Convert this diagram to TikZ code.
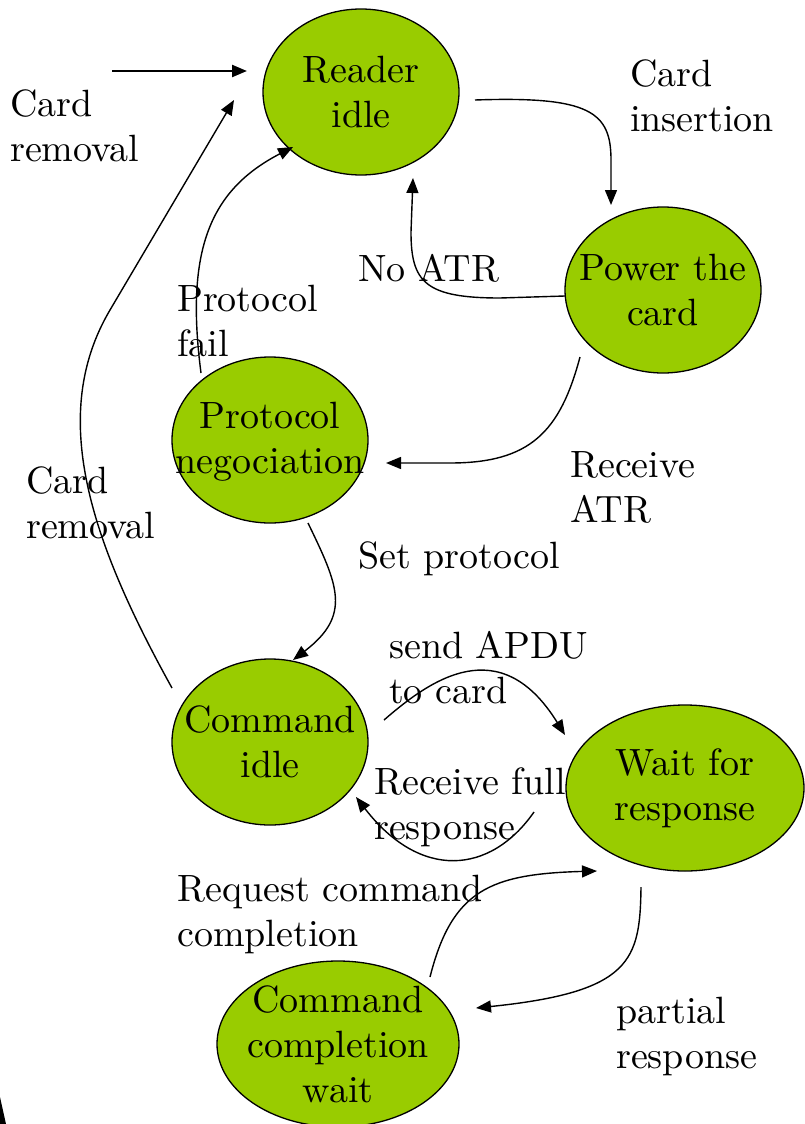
\documentclass[tikz,border=0pt]{standalone}
\usepackage{fontspec}
\setmainfont{lmroman10-regular.otf}
\usetikzlibrary{shapes.geometric,arrows.meta}
\definecolor{stategreen}{RGB}{153,204,0}
\begin{document}
\begin{tikzpicture}[x=1pt,y=-1pt,
  state/.style={ellipse,draw=black,line width=1.3pt,fill=stategreen,inner sep=0pt,
    minimum width=196pt,minimum height=166pt},
  stxt/.style={inner sep=0pt,align=center,font=\fontsize{38}{45}\selectfont},
  lbl/.style={anchor=north west,inner sep=0pt,align=left,font=\fontsize{38}{45}\selectfont},
  trans/.style={line width=1.4pt,-{Triangle[length=15pt,width=12pt]}}]
\useasboundingbox (0,0) rectangle (805,1124);

% states
\node[state] (reader) at (361,92) {};
\node[stxt] (readerT) at (reader) {Reader\\idle};
\node[state] (power) at (663,290) {};
\node[stxt] (powerT) at (power) {Power the\\card};
\node[state] (proto) at (270,440) {};
\node[stxt] (protoT) at ([yshift=-2pt]proto) {Protocol\\negociation};
\node[state] (cmd) at (270,742) {};
\node[stxt] (cmdT) at (cmd) {Command\\idle};
\node[state,minimum width=238pt] (wait) at (685,788) {};
\node[stxt] (waitT) at (wait) {Wait for\\response};
\node[state,minimum width=242pt] (ccw) at (338,1044) {};
\node[stxt] (ccwT) at (ccw) {Command\\completion\\wait};

% connector end points
\coordinate (startIn) at (112,71);
\coordinate (readerIn) at (247,71);
\coordinate (readerOut) at (475,100);
\coordinate (powerIn) at (611,205);
\coordinate (noAtrS) at (565,296);
\coordinate (noAtrE) at (413,178);
\coordinate (failS) at (201,373);
\coordinate (failE) at (293,147);
\coordinate (remS) at (172,688);
\coordinate (remM) at (110,310);
\coordinate (remE) at (234,100);
\coordinate (atrS) at (580,357);
\coordinate (atrE) at (386,463);
\coordinate (setS) at (308,523);
\coordinate (setE) at (293,660);
\coordinate (apduS) at (384,720);
\coordinate (apduE) at (565,735);
\coordinate (fullS) at (534,812);
\coordinate (fullE) at (356,797);
\coordinate (reqS) at (430,977);
\coordinate (reqE) at (597,871);
\coordinate (partS) at (641,887);
\coordinate (partE) at (476,1008);

% transitions
\draw[trans,line width=2.4pt] (startIn) -- (readerIn);
\draw[trans] (readerOut) .. controls (590,96) and (611,112) .. (611,160) -- (powerIn);
\draw[trans] (noAtrS) -- (500,298) .. controls (425,298) and (411,282) .. (411,232) -- (noAtrE);
\draw[trans] (failS) .. controls (185,250) and (210,190) .. (failE);
\draw[trans] (remS) .. controls (90,540) and (48,415) .. (remM) -- (remE);
\draw[trans] (atrS) .. controls (560,432) and (530,463) .. (450,463) -- (atrE);
\draw[trans] (setS) .. controls (338,585) and (352,615) .. (setE);
\draw[trans] (apduS) .. controls (430,680) and (500,630) .. (apduE);
\draw[trans] (fullS) .. controls (490,875) and (420,880) .. (fullE);
\draw[trans] (reqS) .. controls (452,890) and (490,874) .. (reqE);
\draw[trans] (partS) .. controls (640,960) and (632,992) .. (partE);

% transition labels
\node[lbl] (l1) at (10,89.5) {Card\\removal};
\node[lbl] (l2) at (630,59.5) {Card\\insertion};
\node[lbl] (l3) at (358,254.5) {No ATR};
\node[lbl] (l4) at (177,284.5) {Protocol\\fail};
\node[lbl] (l5) at (26,466.5) {Card\\removal};
\node[lbl] (l6) at (570,451.5) {Receive\\ATR};
\node[lbl] (l7) at (358,541.5) {Set protocol};
\node[lbl] (l8) at (389,631.5) {send APDU\\to card};
\node[lbl] (l9) at (374,767.5) {Receive full\\response};
\node[lbl] (l10) at (177,874.5) {Request command\\completion};
\node[lbl] (l11) at (616,996.5) {partial\\response};

% dark wedge at the lower left corner
\fill (0,1097) -- (6,1124) -- (0,1124) -- cycle;
\end{tikzpicture}
\end{document}
